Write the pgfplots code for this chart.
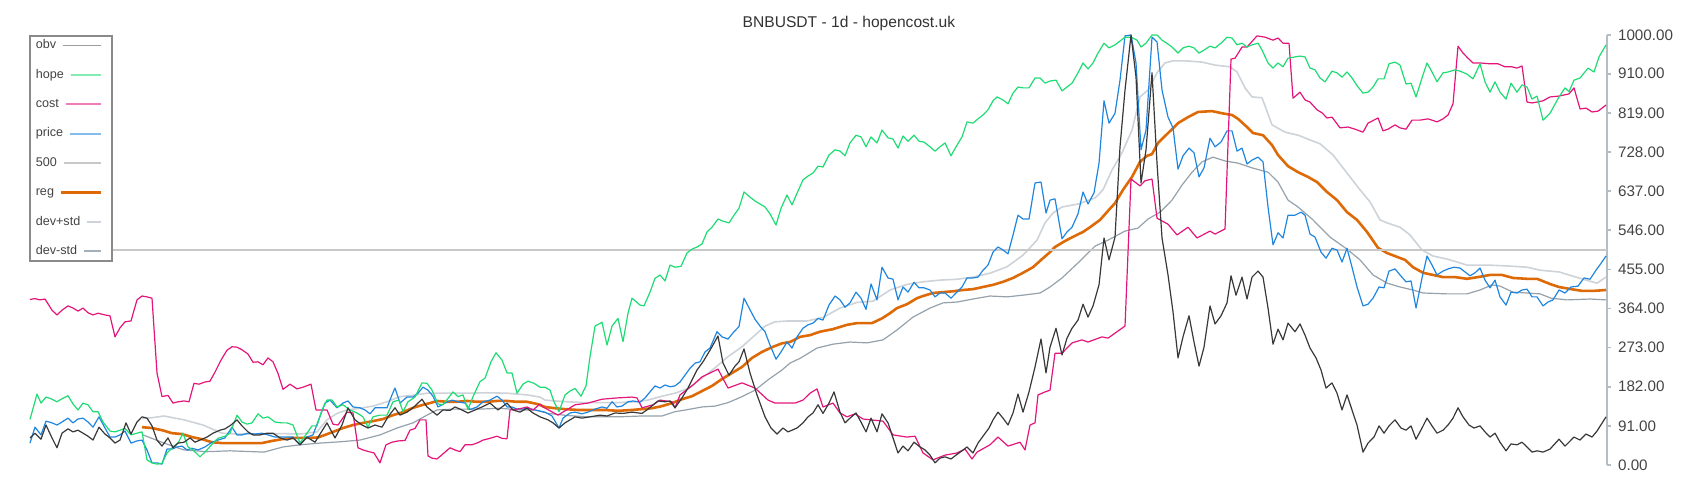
\documentclass[border=0pt]{standalone}
\usepackage{fontspec}
\setmainfont{Liberation Sans}
\usepackage{pgfplots}
\pgfplotsset{compat=1.18}

\definecolor{obvc}{HTML}{383838}
\definecolor{hopec}{HTML}{1FDB74}
\definecolor{costc}{HTML}{E3157B}
\definecolor{pricec}{HTML}{1F86E0}
\definecolor{fivec}{HTML}{C8C8C8}
\definecolor{regc}{HTML}{DD6A06}
\definecolor{devpc}{HTML}{CDD3D8}
\definecolor{devmc}{HTML}{95A1AB}
\definecolor{axc}{HTML}{B4BCC4}
\definecolor{labc}{HTML}{444444}
\definecolor{legc}{HTML}{8A8A8A}

% legend sample: starts just after the label, ends at a common right edge
% args: how far it reaches left, its colour, its width
\pgfplotsset{legimg/.style n args={3}{legend image code/.code={%
  \draw[##1,overlay,draw=#2,line width=#3] (-#1,0pt) -- (8.5pt,0pt);
  \path[draw=none,fill=none] (0pt,0pt) -- (10.8pt,0pt);}}}

\begin{document}
\begin{tikzpicture}
\useasboundingbox (0,0) rectangle (850pt,250pt);
\begin{axis}[
  at={(15pt,17.5pt)}, anchor=south west,
  scale only axis, width=788.5pt, height=215pt,
  xmin=30, xmax=1607, ymin=0, ymax=1000,
  hide x axis, axis y line=right,
  y axis line style={-, draw=axc, line width=0.8pt},
  tick align=outside, major tick length=2pt,
  tick style={draw=axc, line width=0.8pt},
  ytick={0,91,182,273,364,455,546,637,728,819,910,1000},
  yticklabel style={font=\fontsize{7.6}{8.5}\selectfont, text=labc,
    /pgf/number format/.cd, fixed, fixed zerofill, precision=2, 1000 sep={}, assume math mode=true},
  clip=false,
  every axis title/.style={at={(0.5193,1)}, anchor=base, yshift=4pt,
    font=\fontsize{7.8}{9}\selectfont, text=black!80},
  title={BNBUSDT - 1d - hopencost.uk},
  reverse legend, legend plot pos=right, legend cell align=left,
  legend style={at={(0,1)}, anchor=north west, xshift=-0.5pt,
    draw=legc, line width=0.8pt, fill=white, inner xsep=3pt, inner ysep=1.85pt,
    font=\fontsize{6.3}{7}\selectfont, text=labc, row sep=8.8pt, column sep=2pt,
    nodes={inner sep=0pt, text height=4.6pt, text depth=1.3pt}},
  every axis plot/.append style={line join=round, no markers},
]
% dev-std
\addplot[devmc, line width=0.6pt, legimg={0.1pt}{devmc!85!white}{0.9pt}] coordinates {
(143,70)(164,51)(184,35)(207,31)(230,33)(264,30)(283,42)(300,47)(320,51)(340,54)(360,58)(380,70)(397,86)(413,98)(427,116)(437,128)(453,130)(480,130)(500,132)(520,128)(535,128)(548,120)(568,115)(588,112)(618,112)(642,114)(662,114)(675,124)(688,129)(702,135)(715,137)(728,145)(742,159)(755,174)(768,198)(782,221)(790,237)(800,248)(817,272)(833,281)(850,286)(867,284)(883,291)(897,314)(913,344)(930,365)(943,377)(957,379)(973,386)(990,393)(1007,391)(1023,395)(1040,400)(1050,414)(1062,435)(1078,470)(1095,509)(1108,523)(1125,544)(1138,551)(1148,572)(1160,588)(1172,616)(1182,651)(1192,681)(1202,705)(1213,716)(1225,707)(1238,702)(1252,691)(1268,681)(1278,658)(1288,616)(1298,600)(1313,570)(1330,530)(1347,502)(1360,477)(1373,442)(1387,423)(1400,414)(1413,407)(1423,400)(1447,398)(1467,398)(1480,407)(1492,419)(1500,416)(1513,402)(1527,400)(1540,398)(1551,388)(1567,384)(1590,386)(1606,384)};
\addlegendentry{dev-std}
% dev+std
\addplot[devpc, line width=0.8pt, legimg={-1.5pt}{devpc}{0.9pt}] coordinates {
(142,108)(152,110)(164,114)(184,105)(203,93)(222,74)(237,72)(260,72)(283,73)(300,72)(317,77)(327,105)(337,120)(347,128)(360,132)(373,137)(387,147)(400,159)(413,162)(427,167)(447,167)(467,167)(487,168)(507,167)(527,163)(540,158)(545,151)(555,149)(568,147)(585,145)(602,145)(618,145)(635,147)(648,151)(662,160)(675,167)(688,178)(702,202)(715,226)(728,252)(742,275)(755,302)(765,323)(775,333)(788,335)(807,335)(823,343)(840,365)(857,378)(873,381)(890,407)(907,420)(923,426)(940,430)(957,432)(973,437)(990,446)(1007,461)(1023,488)(1037,523)(1045,563)(1053,586)(1062,600)(1078,607)(1095,621)(1103,640)(1112,686)(1122,726)(1132,779)(1140,856)(1148,872)(1157,912)(1165,935)(1173,940)(1185,940)(1202,937)(1215,930)(1230,926)(1237,914)(1245,877)(1252,856)(1262,854)(1272,791)(1285,774)(1298,767)(1310,756)(1320,747)(1333,721)(1347,679)(1360,640)(1370,612)(1380,570)(1387,563)(1400,553)(1410,535)(1422,500)(1433,486)(1447,479)(1467,465)(1487,465)(1507,463)(1527,460)(1540,453)(1559,449)(1586,430)(1597,423)(1606,437)};
\addlegendentry{dev+std}
% reg
\addplot[regc, line width=1.3pt, legimg={11.6pt}{regc}{1.3pt}] coordinates {
(142,88)(152,86)(162,81)(172,74)(182,72)(192,65)(202,60)(212,53)(222,51)(232,51)(242,51)(252,51)(262,51)(272,56)(282,60)(293,63)(307,63)(318,64)(325,70)(333,77)(343,86)(353,93)(363,98)(373,102)(383,107)(393,116)(403,123)(413,133)(423,140)(430,144)(437,149)(447,147)(457,147)(467,149)(477,147)(487,147)(497,149)(507,149)(517,147)(527,147)(537,142)(545,135)(555,132)(565,130)(578,128)(592,128)(605,128)(618,126)(632,128)(642,130)(652,132)(662,137)(672,144)(682,153)(692,160)(702,172)(712,184)(722,200)(732,214)(742,228)(752,249)(762,263)(772,274)(782,283)(790,286)(800,298)(810,302)(820,310)(833,316)(847,326)(857,330)(872,330)(882,341)(890,353)(897,365)(907,374)(917,388)(923,393)(933,400)(943,402)(953,404)(963,407)(973,409)(983,414)(993,419)(1003,426)(1013,435)(1023,447)(1033,460)(1043,481)(1050,495)(1055,507)(1065,521)(1075,533)(1083,542)(1090,553)(1100,570)(1108,591)(1115,609)(1123,640)(1132,670)(1140,705)(1147,719)(1152,723)(1158,749)(1165,765)(1172,781)(1178,795)(1188,809)(1198,821)(1212,823)(1222,818)(1232,814)(1238,805)(1247,786)(1253,772)(1263,767)(1272,744)(1278,721)(1288,695)(1298,681)(1308,670)(1317,658)(1327,635)(1337,616)(1347,588)(1357,570)(1367,542)(1378,505)(1387,493)(1397,484)(1405,477)(1413,460)(1423,447)(1433,442)(1443,437)(1455,437)(1467,433)(1478,437)(1490,442)(1502,442)(1513,435)(1527,433)(1537,433)(1550,421)(1559,414)(1571,409)(1582,405)(1594,405)(1606,407)};
\addlegendentry{reg}
% 500
\addplot[fivec, line width=1pt, legimg={10.2pt}{fivec}{1pt}] coordinates {(30,500)(1607,500)};
\addlegendentry{500}
% price
\addplot[pricec, line width=0.6pt, legimg={7.1pt}{pricec!55!white}{0.9pt}] coordinates {
(30,51)(35,88)(41,70)(46,102)(52,98)(57,93)(62,100)(68,109)(73,98)(78,107)(83,109)(88,100)(93,88)(99,112)(105,86)(110,65)(115,65)(120,70)(125,79)(131,51)(137,56)(142,58)(147,35)(152,5)(157,5)(162,2)(167,37)(172,37)(177,42)(182,44)(187,35)(192,39)(198,35)(205,42)(212,53)(218,58)(225,63)(232,88)(237,70)(242,70)(248,74)(255,72)(262,74)(268,70)(275,65)(282,65)(287,65)(293,65)(300,47)(307,65)(313,70)(319,107)(325,144)(330,151)(337,133)(343,144)(348,149)(353,135)(360,133)(365,128)(370,119)(375,133)(382,133)(387,133)(392,163)(395,179)(400,144)(407,158)(413,158)(418,167)(423,181)(428,174)(433,160)(438,135)(445,144)(452,151)(458,147)(465,144)(470,129)(477,135)(483,147)(490,151)(497,160)(502,151)(507,135)(512,135)(517,130)(522,130)(528,132)(535,128)(545,123)(552,114)(559,86)(563,109)(570,121)(575,123)(582,119)(588,123)(595,130)(602,135)(607,132)(612,147)(617,135)(622,137)(628,147)(633,149)(640,146)(645,156)(650,170)(655,184)(660,179)(665,186)(670,182)(675,184)(680,193)(685,209)(690,225)(695,237)(700,240)(705,263)(710,272)(717,310)(722,298)(728,293)(734,310)(739,322)(744,388)(750,361)(755,339)(760,323)(765,310)(770,279)(776,246)(781,263)(787,286)(792,272)(797,298)(803,318)(808,326)(813,330)(818,341)(823,337)(829,372)(835,393)(840,384)(845,367)(850,377)(856,402)(861,388)(866,362)(871,421)(877,384)(882,460)(888,435)(893,432)(898,384)(903,414)(908,402)(914,425)(919,412)(924,412)(930,407)(935,391)(940,400)(945,400)(951,388)(956,400)(962,414)(967,435)(973,435)(978,437)(983,453)(988,465)(993,495)(998,507)(1003,500)(1008,491)(1013,535)(1018,581)(1023,572)(1029,572)(1035,656)(1041,658)(1046,586)(1050,616)(1055,619)(1062,526)(1067,542)(1072,553)(1078,584)(1083,635)(1088,607)(1094,633)(1099,702)(1104,847)(1109,795)(1115,818)(1120,895)(1125,998)(1131,1000)(1136,935)(1141,733)(1146,779)(1152,995)(1157,984)(1162,872)(1168,809)(1173,784)(1178,688)(1183,719)(1189,737)(1194,726)(1199,670)(1204,691)(1210,760)(1215,740)(1221,751)(1227,777)(1232,777)(1237,730)(1242,737)(1247,700)(1252,709)(1258,716)(1263,705)(1268,600)(1273,512)(1278,540)(1283,528)(1288,581)(1295,581)(1301,588)(1305,581)(1310,537)(1315,530)(1321,495)(1326,481)(1332,504)(1337,500)(1342,472)(1347,504)(1352,460)(1357,414)(1363,370)(1368,374)(1373,388)(1379,414)(1384,412)(1389,451)(1395,456)(1400,442)(1406,426)(1411,428)(1416,365)(1422,435)(1427,486)(1432,465)(1437,442)(1443,451)(1448,456)(1454,460)(1460,458)(1465,449)(1470,440)(1475,447)(1480,458)(1485,430)(1490,412)(1495,430)(1500,391)(1506,372)(1511,402)(1517,400)(1522,407)(1527,409)(1532,391)(1537,391)(1543,370)(1548,379)(1553,384)(1559,407)(1565,400)(1571,414)(1578,416)(1584,435)(1590,432)(1596,453)(1601,469)(1606,486)};
\addlegendentry{price}
% cost
\addplot[costc, line width=0.6pt, legimg={9.2pt}{costc!55!white}{0.9pt}] coordinates {
(30,385)(35,387)(40,384)(45,386)(52,360)(57,349)(62,360)(68,370)(73,365)(78,358)(83,365)(88,354)(93,349)(98,353)(105,349)(110,347)(115,298)(120,319)(125,333)(131,335)(137,384)(142,393)(147,391)(152,388)(157,214)(162,159)(168,162)(173,144)(178,147)(184,149)(189,147)(194,190)(199,188)(205,193)(210,195)(215,216)(221,244)(227,267)(232,275)(237,274)(242,268)(248,258)(253,239)(258,240)(263,233)(268,249)(273,240)(278,213)(283,176)(290,188)(297,177)(303,181)(311,188)(316,128)(322,128)(327,128)(333,95)(338,93)(347,123)(353,121)(358,40)(363,35)(369,31)(374,28)(380,5)(386,47)(392,53)(398,56)(405,57)(410,81)(415,85)(420,105)(426,105)(428,21)(432,16)(437,14)(443,26)(450,40)(455,35)(460,31)(465,47)(472,47)(478,52)(483,58)(490,62)(497,67)(502,62)(507,61)(510,128)(517,130)(522,132)(527,135)(533,128)(540,142)(543,135)(558,116)(575,140)(588,144)(602,153)(617,156)(632,158)(637,156)(642,133)(653,140)(660,151)(672,147)(675,133)(680,163)(693,186)(702,205)(710,214)(718,223)(728,179)(742,191)(755,179)(768,151)(775,144)(795,144)(803,151)(810,167)(817,177)(823,135)(833,144)(840,121)(847,112)(855,119)(863,107)(883,102)(893,70)(907,65)(915,67)(923,28)(933,12)(945,23)(957,28)(965,37)(972,14)(977,30)(990,47)(998,65)(1008,44)(1020,53)(1025,35)(1030,93)(1035,98)(1038,163)(1045,170)(1050,174)(1055,260)(1062,260)(1072,284)(1082,291)(1088,286)(1102,298)(1108,295)(1117,310)(1125,323)(1131,665)(1140,649)(1145,661)(1152,665)(1157,574)(1168,560)(1177,535)(1188,553)(1197,528)(1210,544)(1215,537)(1225,549)(1231,944)(1235,946)(1242,972)(1247,972)(1257,998)(1265,995)(1273,988)(1278,993)(1283,981)(1289,981)(1293,853)(1300,867)(1305,849)(1310,844)(1317,826)(1322,819)(1327,807)(1332,809)(1340,784)(1348,786)(1355,781)(1363,774)(1368,795)(1378,807)(1383,777)(1388,781)(1395,791)(1400,784)(1406,781)(1412,802)(1420,802)(1428,805)(1437,798)(1443,805)(1448,814)(1453,840)(1458,974)(1463,958)(1468,946)(1473,935)(1480,935)(1490,933)(1498,933)(1505,926)(1512,926)(1517,923)(1522,928)(1527,844)(1532,842)(1537,844)(1543,847)(1550,856)(1559,858)(1569,863)(1574,877)(1580,828)(1586,830)(1592,821)(1598,823)(1606,837)};
\addlegendentry{cost}
% hope
\addplot[hopec, line width=0.6pt, legimg={6.7pt}{hopec!55!white}{0.9pt}] coordinates {
(30,106)(37,165)(41,144)(46,158)(51,154)(57,147)(62,154)(68,161)(73,142)(78,128)(83,144)(88,140)(93,124)(98,124)(103,100)(110,79)(115,77)(120,81)(125,85)(131,70)(137,74)(142,77)(147,12)(152,5)(157,2)(162,4)(167,28)(173,42)(178,51)(183,74)(188,42)(193,35)(200,19)(207,35)(213,51)(218,62)(225,67)(230,74)(237,116)(242,100)(247,95)(252,98)(258,119)(263,109)(268,112)(275,100)(282,98)(287,98)(293,93)(300,51)(307,74)(312,91)(317,91)(322,128)(327,151)(332,151)(337,135)(343,140)(350,128)(357,121)(363,112)(368,88)(373,112)(380,116)(387,116)(393,147)(399,151)(403,124)(408,147)(415,158)(422,191)(427,190)(432,174)(438,142)(443,140)(448,155)(453,170)(458,159)(463,163)(468,129)(473,159)(480,194)(485,202)(491,240)(496,261)(502,244)(507,214)(512,214)(517,167)(523,188)(528,195)(534,190)(540,181)(545,181)(550,174)(554,147)(559,124)(565,163)(570,172)(575,178)(581,160)(586,184)(590,252)(595,323)(602,332)(607,279)(612,323)(618,341)(623,287)(628,353)(632,388)(640,372)(644,370)(650,402)(655,434)(660,442)(665,428)(670,465)(675,460)(681,462)(687,493)(692,502)(697,507)(702,514)(707,542)(712,553)(718,572)(723,567)(729,563)(734,581)(739,597)(744,635)(750,623)(755,614)(760,607)(765,600)(770,584)(776,558)(781,597)(787,628)(792,605)(797,632)(803,663)(808,672)(813,679)(818,695)(823,693)(829,721)(835,733)(840,730)(845,719)(850,749)(856,767)(861,763)(866,740)(871,763)(877,749)(882,779)(888,761)(893,758)(898,737)(903,765)(908,753)(914,767)(919,753)(924,751)(930,740)(935,730)(940,740)(945,749)(951,719)(956,740)(962,763)(967,798)(973,795)(978,805)(983,814)(988,826)(993,847)(997,856)(1003,849)(1008,840)(1013,865)(1018,879)(1023,877)(1029,877)(1035,900)(1040,900)(1045,888)(1050,893)(1056,895)(1062,870)(1067,879)(1072,888)(1078,912)(1083,935)(1088,921)(1093,935)(1098,958)(1104,981)(1109,970)(1115,977)(1120,986)(1125,995)(1131,995)(1137,988)(1141,972)(1146,981)(1152,1000)(1157,1000)(1162,988)(1168,979)(1172,972)(1178,958)(1183,970)(1189,974)(1194,970)(1199,958)(1204,965)(1210,974)(1215,970)(1221,981)(1227,995)(1232,993)(1237,977)(1242,981)(1247,972)(1252,977)(1258,981)(1262,965)(1268,935)(1273,923)(1278,935)(1283,926)(1288,946)(1295,949)(1300,951)(1305,949)(1310,923)(1315,919)(1320,900)(1325,891)(1332,916)(1337,912)(1342,902)(1347,914)(1352,900)(1357,882)(1363,865)(1368,867)(1373,879)(1378,898)(1384,898)(1389,933)(1395,937)(1400,930)(1406,886)(1411,888)(1416,856)(1422,900)(1427,935)(1432,914)(1437,891)(1443,912)(1448,914)(1455,919)(1460,916)(1467,909)(1473,898)(1480,933)(1485,891)(1490,867)(1495,891)(1500,867)(1506,851)(1511,888)(1517,867)(1522,884)(1527,879)(1532,851)(1537,858)(1543,802)(1550,818)(1559,856)(1565,877)(1569,868)(1574,895)(1580,900)(1588,923)(1594,914)(1599,949)(1606,977)};
\addlegendentry{hope}
% obv
\addplot[obvc, line width=0.6pt, legimg={10.6pt}{obvc!50!white}{0.9pt}] coordinates {
(30,63)(35,74)(41,60)(46,93)(52,63)(57,40)(62,74)(68,84)(73,77)(78,81)(83,74)(88,67)(93,58)(99,88)(105,72)(110,63)(115,51)(120,58)(126,98)(131,72)(137,100)(142,112)(147,109)(152,91)(157,58)(162,44)(168,63)(173,40)(178,51)(184,53)(190,63)(195,53)(200,58)(207,65)(213,74)(220,81)(225,84)(231,93)(237,105)(242,91)(248,77)(253,70)(260,70)(267,74)(273,74)(280,63)(287,58)(293,63)(300,47)(307,65)(315,53)(327,98)(335,63)(342,93)(348,133)(355,105)(362,93)(368,86)(375,93)(382,88)(388,112)(395,133)(400,116)(407,123)(413,133)(422,153)(427,135)(437,116)(443,128)(450,127)(455,135)(462,128)(468,121)(475,128)(482,135)(490,144)(498,128)(507,144)(513,128)(520,123)(527,132)(533,121)(540,112)(548,105)(553,98)(559,86)(565,98)(575,112)(582,109)(590,112)(600,116)(607,114)(615,121)(623,120)(632,123)(642,120)(648,130)(658,149)(665,147)(670,149)(675,133)(682,156)(688,179)(697,221)(703,240)(710,267)(718,300)(723,237)(729,209)(735,230)(739,240)(744,270)(750,214)(757,163)(765,112)(771,86)(777,72)(783,86)(788,77)(797,86)(803,98)(808,112)(813,121)(818,140)(823,120)(829,144)(834,170)(840,123)(845,98)(850,109)(856,121)(861,100)(866,77)(871,109)(877,77)(882,119)(888,98)(893,63)(898,28)(903,44)(908,33)(914,53)(920,42)(925,35)(930,23)(935,5)(940,16)(945,19)(951,14)(956,23)(962,33)(967,42)(973,28)(978,51)(983,67)(989,86)(993,105)(998,123)(1003,109)(1008,93)(1013,121)(1018,165)(1023,123)(1029,170)(1035,228)(1041,293)(1046,214)(1050,274)(1056,318)(1062,256)(1067,295)(1072,318)(1078,337)(1083,374)(1088,344)(1093,370)(1099,419)(1104,528)(1109,477)(1115,530)(1120,740)(1125,872)(1131,1000)(1136,902)(1141,656)(1146,733)(1152,912)(1157,702)(1162,528)(1168,442)(1173,356)(1178,249)(1183,298)(1189,347)(1194,286)(1199,230)(1204,274)(1210,370)(1215,328)(1221,347)(1227,377)(1231,440)(1236,395)(1242,437)(1247,386)(1252,437)(1258,451)(1263,437)(1268,365)(1273,281)(1278,316)(1283,291)(1288,330)(1295,310)(1300,328)(1305,302)(1310,272)(1316,249)(1321,221)(1326,179)(1332,191)(1337,167)(1342,128)(1347,163)(1352,128)(1357,93)(1363,30)(1368,51)(1374,65)(1379,91)(1384,74)(1389,91)(1395,105)(1401,86)(1406,81)(1411,91)(1416,60)(1422,86)(1427,109)(1432,91)(1437,74)(1443,81)(1448,93)(1453,109)(1458,133)(1463,112)(1469,93)(1474,86)(1480,91)(1485,77)(1490,65)(1495,74)(1500,53)(1506,33)(1511,49)(1517,47)(1522,53)(1527,42)(1532,30)(1537,33)(1543,30)(1550,37)(1559,60)(1565,44)(1574,65)(1580,58)(1586,72)(1592,65)(1597,79)(1606,112)};
\addlegendentry{obv}
\end{axis}
\end{tikzpicture}
\end{document}
